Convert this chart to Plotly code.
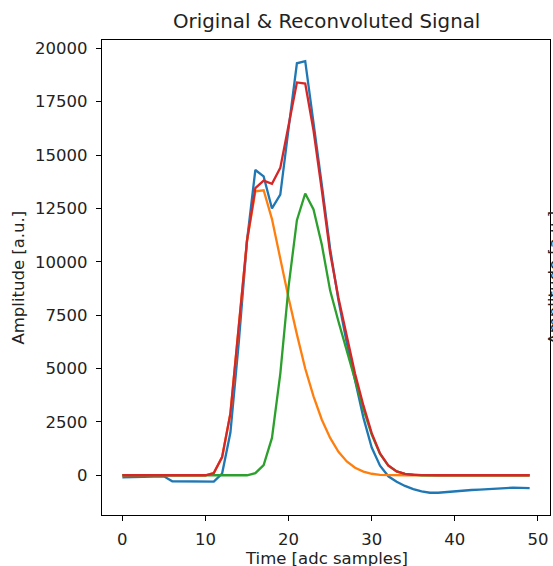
import plotly.graph_objects as go

samples = list(range(50))

original = [-100, -95, -90, -80, -70, -50, -280, -285, -290, -295, -300, -300, 80, 2000, 6200, 11000,
            14300, 14000, 12500, 13150, 16250, 19300, 19400, 16600, 13600, 10600, 8200, 6200, 4400, 2700,
            1300, 450, -50, -300, -500, -650, -760, -820, -820, -780, -740, -710, -690, -670, -640,
            -610, -580, -580, -590, -600]

pulse_1 = [0, 0, 0, 0, 0, 0, 0, 0, 0, 0, 0, 100, 850, 2900, 7000, 11000,
           13300, 13350, 12000, 10100, 8300, 6600, 5000, 3700, 2600, 1750, 1100, 650, 350, 170,
           70, 20, 5, 0, 0, 0, 0, 0, 0, 0, 0, 0, 0, 0, 0,
           0, 0, 0, 0, 0]

pulse_2 = [0, 0, 0, 0, 0, 0, 0, 0, 0, 0, 0, 0, 0, 0, 0, 0,
           100, 480, 1750, 4750, 8850, 11950, 13200, 12450, 10800, 8650, 7200, 5800, 4400, 3100,
           1900, 1000, 450, 180, 60, 15, 0, 0, 0, 0, 0, 0, 0, 0, 0,
           0, 0, 0, 0, 0]

reconvoluted = [0, 0, 0, 0, 0, 0, 0, 0, 0, 0, 0, 100, 850, 2900, 7000, 11000,
                13450, 13800, 13650, 14400, 16400, 18400, 18350, 16150, 13350, 10400, 8300, 6450, 4750, 3270,
                1970, 1020, 455, 180, 60, 15, 0, 0, 0, 0, 0, 0, 0, 0, 0,
                0, 0, 0, 0, 0]

y_ticks = [0, 2500, 5000, 7500, 10000, 12500, 15000, 17500, 20000]
y_tick_labels = ["0", "2500", "5000", "7500", "10000", "12500", "15000", "17500", "20000"]
x_ticks = [0, 10, 20, 30, 40, 50]
x_tick_labels = ["0", "10", "20", "30", "40", "50"]

colors = ["#1f77b4", "#ff7f0e", "#2ca02c", "#d62728"]
series = [original, pulse_1, pulse_2, reconvoluted]

fig = go.Figure()
for vals, col in zip(series, colors):
    fig.add_trace(go.Scatter(x=samples, y=vals, mode="lines",
                             line=dict(color=col, width=2.3), showlegend=False))

font = "DejaVu Sans, Arial, sans-serif"
txt = "#222"
axis_common = dict(showline=True, linecolor="black", linewidth=1.2, mirror=True,
                   ticks="outside", ticklen=5, tickwidth=1.2, tickcolor="black",
                   showgrid=False, zeroline=False, automargin=False,
                   tickfont=dict(family=font, size=16.5, color=txt))

fig.update_layout(
    width=553, height=566,
    margin=dict(l=102, r=3, t=40, b=51, autoexpand=False),
    paper_bgcolor="white", plot_bgcolor="white",
    xaxis=dict(range=[-2.45, 51.45], tickvals=x_ticks, ticktext=x_tick_labels,
               ticklabelstandoff=4, **axis_common),
    yaxis=dict(range=[-1862, 20390], tickvals=y_ticks, ticktext=y_tick_labels,
               ticklabelstandoff=5, **axis_common),
)

# title
fig.add_annotation(text="Original & Reconvoluted Signal", xref="paper", yref="paper",
                   x=0.5, y=1, yshift=19, xanchor="center", yanchor="middle",
                   showarrow=False, font=dict(family=font, size=19.8, color=txt))
# x label
fig.add_annotation(text="Time [adc samples]", xref="paper", yref="paper",
                   x=0.5, y=0, yshift=-43, xanchor="center", yanchor="middle",
                   showarrow=False, font=dict(family=font, size=16.5, color=txt))
# y label
fig.add_annotation(text="Amplitude [a.u.]", xref="paper", yref="paper",
                   x=0, y=0.5, xshift=-84, xanchor="center", yanchor="middle", textangle=-90,
                   showarrow=False, font=dict(family=font, size=16.5, color=txt))
# twin axis label (clipped at the right edge)
fig.add_annotation(text="Amplitude [a.u.]", xref="paper", yref="paper", x=1, y=0.5,
                   xanchor="center", yanchor="middle", xshift=4, textangle=-90,
                   showarrow=False, font=dict(family=font, size=16.5, color=txt))

fig.write_html("out.html", config={"displayModeBar": False},
               post_script="document.body.style.margin='0';document.body.style.overflow='hidden';")
